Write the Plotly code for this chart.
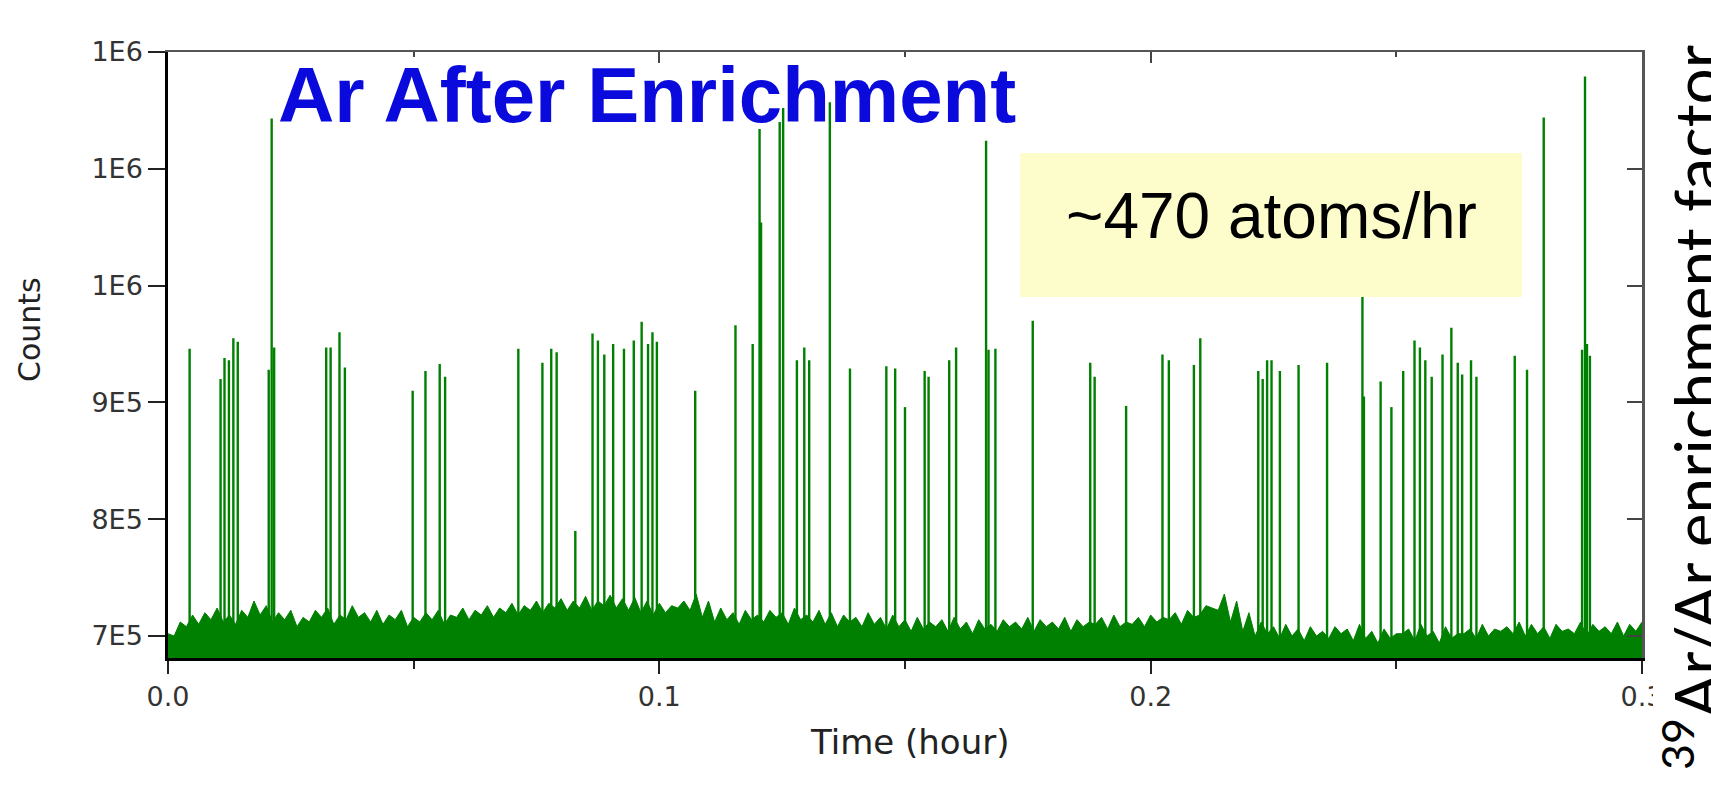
import plotly.graph_objects as go

# ---------------- data ----------------
# baseline noise band, time in hours, counts in units of 1e5
baseline_t = [round(i * 0.0025, 4) for i in range(121)]
baseline_top_e5 = [
    7.02, 7.12, 7.18, 7.20, 7.24, 7.18, 7.22, 7.30, 7.26, 7.20,
    7.22, 7.16, 7.22, 7.24, 7.18, 7.26, 7.20, 7.22, 7.18, 7.22,
    7.16, 7.20, 7.22, 7.18, 7.24, 7.22, 7.26, 7.24, 7.28, 7.26,
    7.30, 7.28, 7.32, 7.30, 7.34, 7.30, 7.35, 7.32, 7.33, 7.30,
    7.28, 7.26, 7.30, 7.36, 7.30, 7.24, 7.20, 7.22, 7.18, 7.22,
    7.20, 7.24, 7.18, 7.22, 7.20, 7.18, 7.16, 7.20, 7.16, 7.18,
    7.14, 7.16, 7.12, 7.14, 7.16, 7.12, 7.14, 7.10, 7.14, 7.12,
    7.16, 7.14, 7.12, 7.16, 7.14, 7.12, 7.16, 7.18, 7.12, 7.16,
    7.18, 7.16, 7.20, 7.22, 7.18, 7.24, 7.36, 7.30, 7.20, 7.12,
    7.08, 7.10, 7.06, 7.08, 7.04, 7.08, 7.06, 7.10, 7.04, 7.06,
    7.02, 7.06, 7.10, 7.04, 7.08, 7.02, 7.06, 7.10, 7.06, 7.08,
    7.12, 7.10, 7.08, 7.10, 7.06, 7.12, 7.10, 7.08, 7.12, 7.10,
    7.12,
]
# dips of the noise band, half way between the points above
baseline_mid_t = [round(0.00125 + i * 0.0025, 5) for i in range(120)]
baseline_mid_e5 = [
    7.00, 7.08, 7.10, 7.14, 7.12, 7.10, 7.16, 7.18, 7.12, 7.14,
    7.08, 7.12, 7.16, 7.10, 7.14, 7.16, 7.12, 7.10, 7.14, 7.08,
    7.12, 7.14, 7.10, 7.16, 7.14, 7.18, 7.16, 7.20, 7.18, 7.22,
    7.20, 7.24, 7.22, 7.24, 7.22, 7.26, 7.24, 7.22, 7.20, 7.18,
    7.20, 7.24, 7.22, 7.16, 7.12, 7.14, 7.10, 7.14, 7.12, 7.16,
    7.10, 7.14, 7.12, 7.10, 7.08, 7.12, 7.08, 7.10, 7.06, 7.08,
    7.04, 7.06, 7.08, 7.04, 7.06, 7.02, 7.06, 7.04, 7.08, 7.06,
    7.04, 7.08, 7.06, 7.04, 7.08, 7.10, 7.06, 7.08, 7.10, 7.08,
    7.12, 7.14, 7.10, 7.16, 7.26, 7.22, 7.12, 7.04, 7.00, 7.02,
    6.98, 7.00, 6.96, 7.00, 6.98, 7.02, 6.96, 6.98, 6.94, 6.98,
    7.02, 6.96, 7.00, 6.94, 6.98, 7.02, 6.98, 7.00, 7.04, 7.02,
    7.00, 7.02, 6.98, 7.04, 7.02, 7.00, 7.04, 7.02, 7.00, 7.04,
]

# single-atom spikes: time (hour) and peak counts
spike_t = [
    0.0044, 0.0107, 0.0115, 0.0124, 0.0133, 0.0142, 0.0205, 0.0211, 0.0216,
    0.0322, 0.0331, 0.0349, 0.0360, 0.0498, 0.0524, 0.0553, 0.0564,
    0.0713, 0.0762, 0.0780, 0.0791, 0.0829, 0.0864, 0.0875, 0.0888,
    0.0906, 0.0928, 0.0948, 0.0964, 0.0977, 0.0986, 0.0995, 0.1073,
    0.1155, 0.1190, 0.1204, 0.1207, 0.1245, 0.1252, 0.1280, 0.1295,
    0.1305, 0.1347, 0.1388, 0.1462, 0.1480, 0.1500, 0.1540, 0.1548,
    0.1590, 0.1604, 0.1665, 0.1670, 0.1684, 0.1760, 0.1877, 0.1886,
    0.1950, 0.2024, 0.2037, 0.2088, 0.2101, 0.2219, 0.2228, 0.2237,
    0.2246, 0.2263, 0.2301, 0.2359, 0.2431, 0.2434, 0.2468, 0.2490,
    0.2514, 0.2537, 0.2548, 0.2559, 0.2572, 0.2594, 0.2612, 0.2625,
    0.2634, 0.2652, 0.2663, 0.2741, 0.2766, 0.2800, 0.2878, 0.2884,
    0.2888, 0.2894,
]
spike_peak = [
    946000, 920000, 938000, 936000, 955000, 952000, 928000, 1143000, 947000,
    947000, 947000, 960000, 930000, 910000, 927000, 933000, 922000,
    946000, 934000, 946000, 943000, 790000, 959000, 953000, 941000,
    950000, 946000, 953000, 969000, 950000, 960000, 952000, 910000,
    966000, 950000, 1134000, 1054000, 1140000, 1152000, 936000, 947000,
    936000, 1157000, 929000, 931000, 929000, 896000, 927000, 922000,
    936000, 947000, 1124000, 945000, 946000, 970000, 934000, 922000,
    897000, 941000, 936000, 932000, 955000, 927000, 920000, 936000,
    936000, 927000, 932000, 934000, 1030000, 905000, 918000, 896000,
    927000, 953000, 947000, 936000, 922000, 941000, 964000, 934000,
    924000, 936000, 922000, 940000, 928000, 1144000, 945000, 1179000,
    950000, 940000,
]

x_tick_vals = [0.0, 0.1, 0.2, 0.3]
x_tick_text = ["0.0", "0.1", "0.2", "0.3"]
y_tick_vals = [700000, 800000, 900000, 1000000, 1100000, 1200000]
y_tick_text = ["7E5", "8E5", "9E5", "1E6", "1E6", "1E6"]
x_range = [0.0, 0.3]
y_range = [681200, 1200000]

# ---------------- build ----------------
W, H = 1711, 792
PL, PR, PT, PB = 168, 1642, 52, 658   # plot area in pixels


def px(x):
    return (x - PL) / (PR - PL)


def py(y):
    return (PB - y) / (PB - PT)


GREEN = "rgb(0,128,0)"

# interleave the band tops and dips into one outline
band_x, band_y = [], []
for i, t in enumerate(baseline_t):
    band_x.append(t)
    band_y.append(baseline_top_e5[i] * 1e5)
    if i < len(baseline_mid_t):
        band_x.append(baseline_mid_t[i])
        band_y.append(baseline_mid_e5[i] * 1e5)

sx, sy = [], []
for t, p in zip(spike_t, spike_peak):
    sx += [t, t, None]
    sy += [y_range[0], p, None]

fig = go.Figure()
fig.add_trace(go.Scatter(
    x=band_x, y=band_y, mode="lines", fill="tozeroy",
    line=dict(color=GREEN, width=1), fillcolor=GREEN, hoverinfo="skip",
))
fig.add_trace(go.Scatter(
    x=sx, y=sy, mode="lines", xaxis="x2", yaxis="y2",
    line=dict(color=GREEN, width=2.4), hoverinfo="skip",
))

LABEL_FONT = "DejaVu Sans, Liberation Sans, Arial, sans-serif"
tickfont = dict(family=LABEL_FONT, size=27, color="#333333")

fig.update_layout(
    width=W, height=H,
    margin=dict(l=PL, r=W - PR, t=PT, b=H - PB, pad=0),
    paper_bgcolor="white", plot_bgcolor="white",
    showlegend=False,
    xaxis=dict(
        range=x_range, tickmode="array", tickvals=x_tick_vals, ticktext=x_tick_text,
        ticks="outside", ticklen=13, tickwidth=2, tickcolor="#222222",
        minor=dict(dtick=0.05, tick0=0, ticks="outside", ticklen=8, tickwidth=2, tickcolor="#222222"),
        showline=True, linecolor="black", linewidth=2.5,
        showgrid=False, zeroline=False, tickfont=tickfont,
    ),
    yaxis=dict(
        range=y_range, tickmode="array", tickvals=y_tick_vals, ticktext=y_tick_text,
        ticks="outside", ticklen=17, tickwidth=2, tickcolor="#222222",
        showline=True, linecolor="black", linewidth=2.5,
        showgrid=False, zeroline=False, tickfont=tickfont,
    ),
    xaxis2=dict(
        range=x_range, overlaying="x", side="top", tickmode="array", tickvals=x_tick_vals,
        ticks="inside", ticklen=11, tickwidth=2, tickcolor="#444444",
        minor=dict(dtick=0.05, tick0=0, ticks="inside", ticklen=5, tickwidth=2, tickcolor="#444444"),
        showticklabels=False, showline=True, linecolor="#555555", linewidth=2,
        showgrid=False, zeroline=False,
    ),
    yaxis2=dict(
        range=y_range, overlaying="y", side="right", tickmode="array", tickvals=y_tick_vals,
        ticks="inside", ticklen=15, tickwidth=2, tickcolor="#444444",
        showticklabels=False, showline=True, linecolor="#555555", linewidth=2.5,
        showgrid=False, zeroline=False,
    ),
    shapes=[
        dict(type="rect", xref="paper", yref="paper",
             x0=px(1020), x1=px(1522), y0=py(297), y1=py(153),
             fillcolor="#FDFCCB", line=dict(width=0), layer="above"),
        dict(type="rect", xref="paper", yref="paper",
             x0=px(1653), x1=px(1720), y0=py(800), y1=py(-10),
             fillcolor="white", line=dict(width=0), layer="above"),
    ],
    annotations=[
        dict(text="<b>Ar After Enrichment</b>", xref="paper", yref="paper",
             x=px(276), y=py(95), xanchor="left", yanchor="middle", showarrow=False,
             font=dict(family="Liberation Sans, Arial, sans-serif", size=78, color="#0A0ADC")),
        dict(text="~470 atoms/hr", xref="paper", yref="paper",
             x=px(1271), y=py(216), xanchor="center", yanchor="middle", showarrow=False,
             font=dict(family="Liberation Sans, Arial, sans-serif", size=64, color="black")),
        dict(text="Counts", xref="paper", yref="paper", textangle=-90,
             x=px(29), y=py(330), xanchor="center", yanchor="middle", showarrow=False,
             font=dict(family=LABEL_FONT, size=30, color="#222222")),
        dict(text="Time (hour)", xref="paper", yref="paper",
             x=px(909), y=py(742), xanchor="center", yanchor="middle", showarrow=False,
             font=dict(family=LABEL_FONT, size=34, color="#222222")),
        dict(text="<sup>39</sup>Ar/Ar enrichment factor", xref="paper", yref="paper", textangle=-90,
             x=px(1692), y=py(408), xanchor="center", yanchor="middle", showarrow=False,
             font=dict(family="Lato, Noto Sans, sans-serif", size=64, color="black")),
    ],
)

fig.write_html("out.html")
